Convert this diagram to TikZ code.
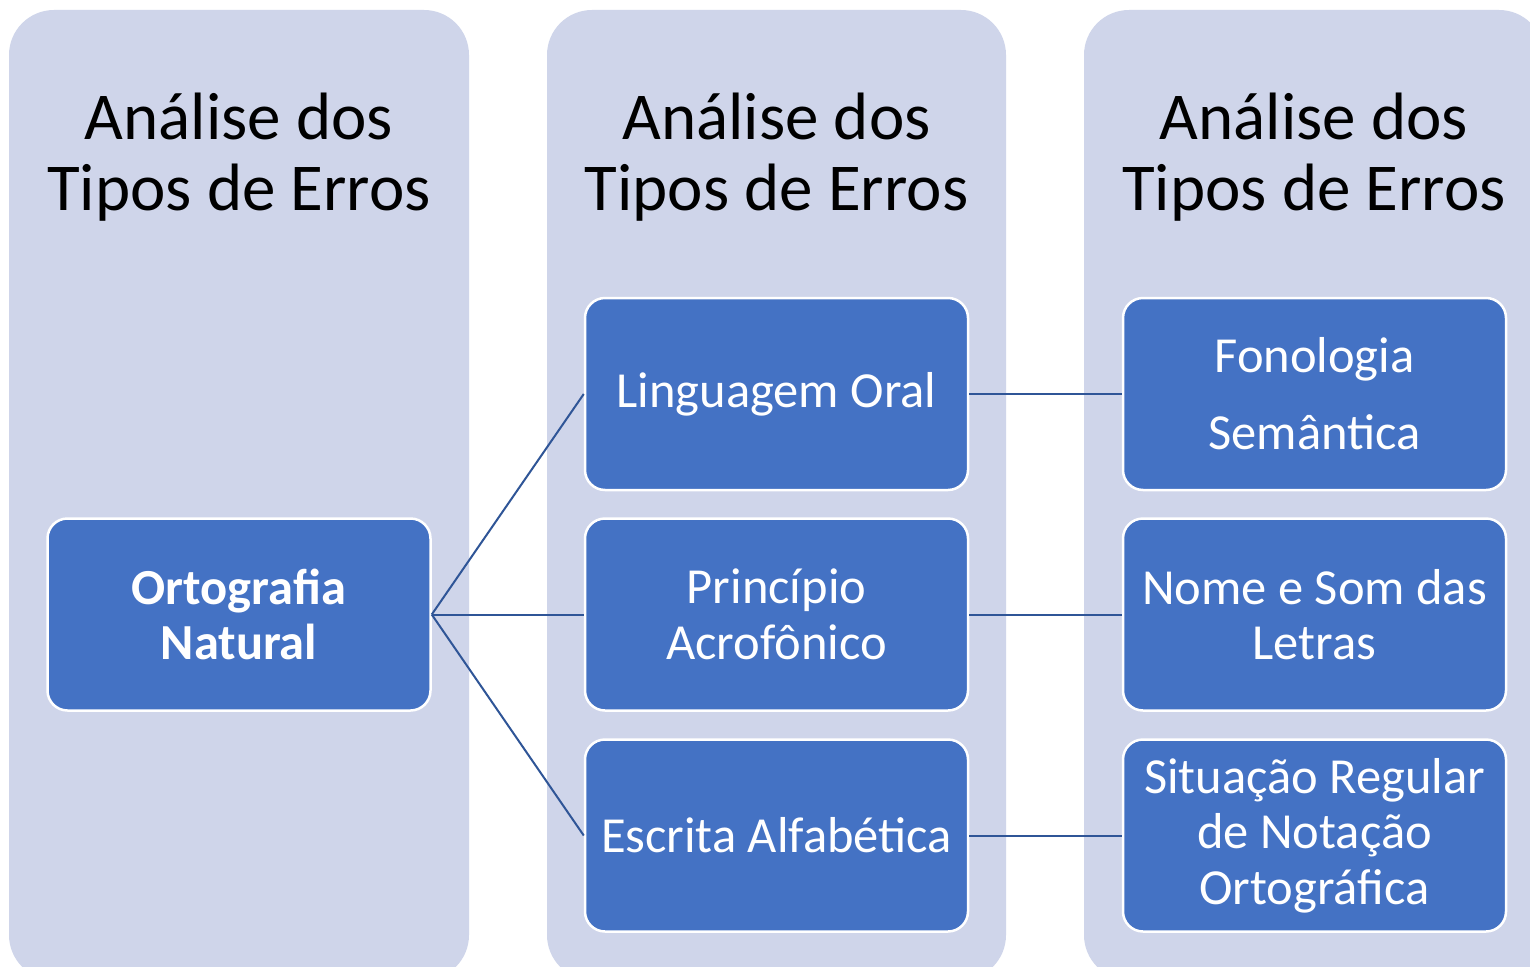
\documentclass[tikz,border=0pt]{standalone}
\usepackage{fontspec}
\setmainfont{Carlito}
\definecolor{colbg}{HTML}{CFD5EA}
\definecolor{boxblue}{HTML}{4472C4}
\definecolor{linkblue}{HTML}{2F5597}
\begin{document}
\begin{tikzpicture}[x=1pt,y=-1pt,
  column/.style={fill=colbg, rounded corners=45pt},
  title/.style={align=center, text=black, font=\fontsize{67}{71}\selectfont, inner sep=0pt},
  item/.style={draw=white, line width=2.5pt, fill=boxblue, rounded corners=20pt,
    minimum width=383pt, minimum height=192pt, align=center, text=white,
    font=\fontsize{50.5}{55.5}\selectfont, inner sep=4pt},
  link/.style={draw=linkblue, line width=2pt}]
\useasboundingbox (0,0) rectangle (1530,966);
\clip (0,0) rectangle (1530,966);
\fill[white] (0,0) rectangle (1530,966);
\path[column] (9,10) rectangle (469,980);
\path[column] (547,10) rectangle (1006,980);
\path[column] (1084,10) rectangle (1544,980);
\node[title] (t1) at (239,157) {Análise dos\\Tipos de Erros};
\node[title] (t2) at (776.5,157) {Análise dos\\Tipos de Erros};
\node[title] (t3) at (1314,157) {Análise dos\\Tipos de Erros};
\node[item, font=\fontsize{50.5}{55.5}\selectfont\bfseries] (orto) at (239,614.5) {Ortografia\\Natural};
\node[item] (oral) at (776.5,394) {\raisebox{-3pt}{Linguagem Oral}};
\node[item] (acro) at (776.5,614.5) {Princípio\\Acrofônico};
\node[item] (alfa) at (776.5,835.5) {Escrita Alfabética};
\node[item, font=\fontsize{50.5}{77}\selectfont] (fono) at (1314.5,394) {Fonologia\\Semântica};
\node[item] (nome) at (1314.5,614.5) {Nome e Som das\\Letras};
\node[item] (situ) at (1314.5,835.5) {Situação Regular\\de Notação\\Ortográfica};
\draw[link] (orto.east) -- (oral.west);
\draw[link] (orto.east) -- (acro.west);
\draw[link] (orto.east) -- (alfa.west);
\draw[link] (oral.east) -- (fono.west);
\draw[link] (acro.east) -- (nome.west);
\draw[link] (alfa.east) -- (situ.west);
\end{tikzpicture}
\end{document}
